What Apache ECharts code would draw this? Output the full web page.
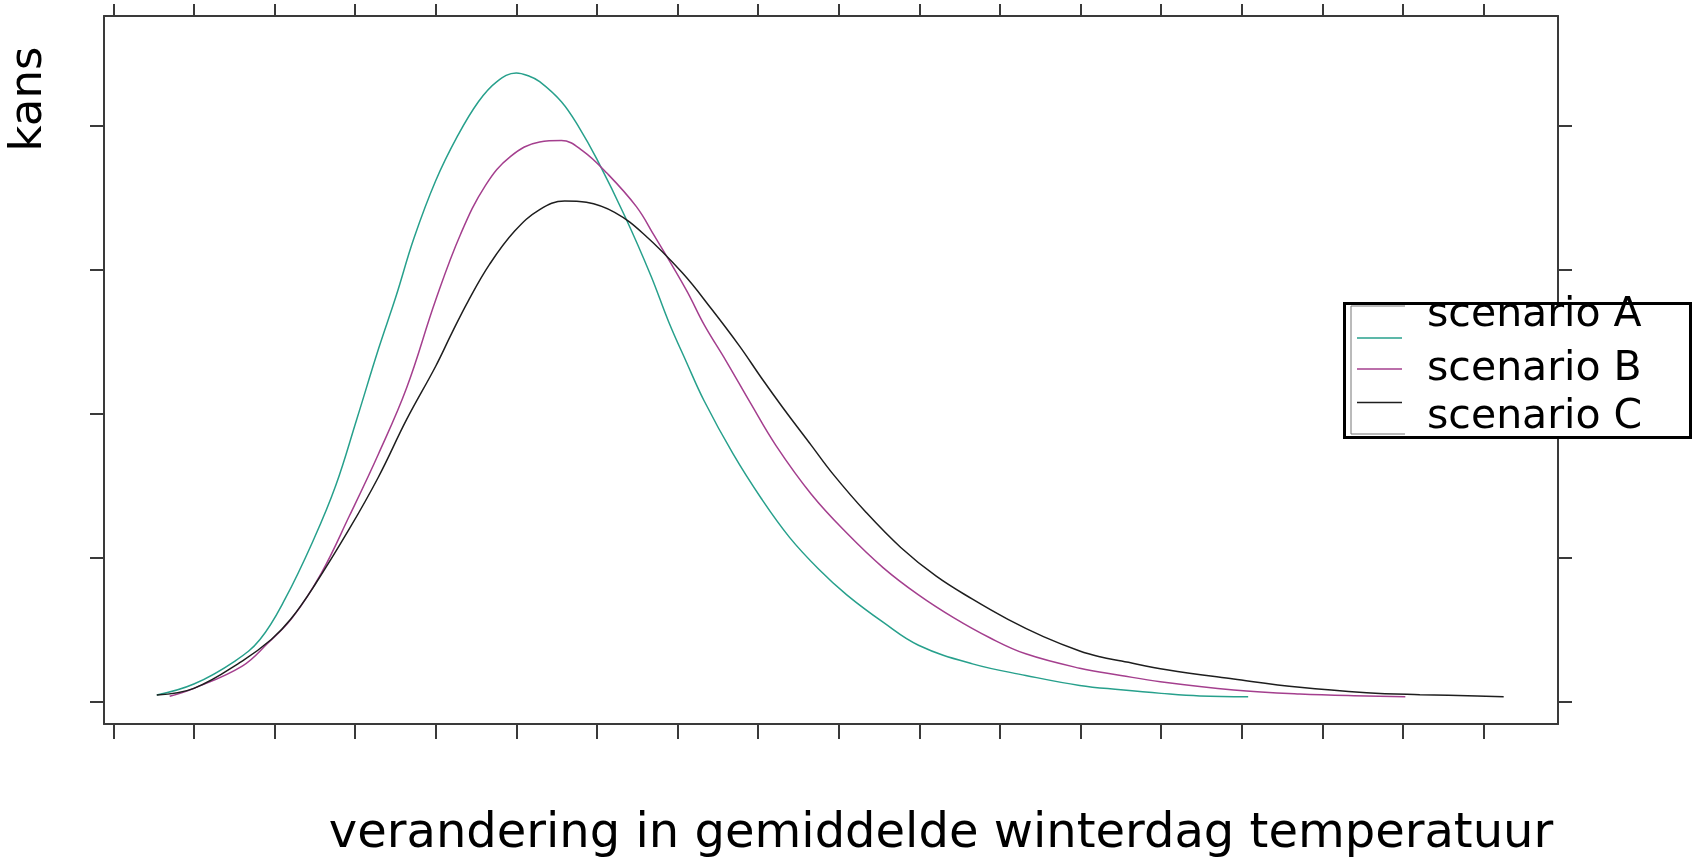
<!DOCTYPE html>
<html>
<head>
<meta charset="utf-8">
<title>kans</title>
<script src="https://cdn.jsdelivr.net/npm/echarts@6/dist/echarts.min.js"></script>
<style>
  html, body { margin: 0; padding: 0; background: #fff; }
  #chart { width: 1695px; height: 858px; }
</style>
</head>
<body>
<div id="chart"></div>
<script>
// tick positions (no labels in the original)
const xTicks = [0, 1, 2, 3, 4, 5, 6, 7, 8, 9, 10, 11, 12, 13, 14, 15, 16, 17]
const yTicks = [0, 1, 2, 3, 4]

const seriesNames = ['scenario A', 'scenario B', 'scenario C']

// scenario A (teal)
const xA = [0.54, 1.0, 1.51, 1.82, 2.13, 2.49, 2.76, 3.02, 3.29, 3.51, 3.73, 4.0, 4.27, 4.53, 4.76, 5.0, 5.15, 5.29, 5.56,
  5.78, 6.0, 6.35, 6.67, 6.89, 7.11, 7.33, 7.69, 8.04, 8.39, 8.75, 9.1, 9.55, 9.99, 10.66, 11.32, 11.99, 12.5, 13.0, 13.48, 14.08]
const yA = [0.044, 0.12, 0.28, 0.43, 0.71, 1.13, 1.50, 1.96, 2.45, 2.82, 3.22, 3.62, 3.93, 4.17, 4.31, 4.37, 4.35, 4.31, 4.17,
  3.99, 3.77, 3.37, 2.96, 2.64, 2.36, 2.09, 1.72, 1.41, 1.14, 0.92, 0.74, 0.55, 0.39, 0.26, 0.18, 0.11, 0.08, 0.055, 0.037, 0.032]

// scenario B (magenta)
const xB = [0.7, 1.0, 1.6, 1.91, 2.22, 2.58, 2.93, 3.29, 3.64, 4.0, 4.31, 4.62, 4.93, 5.29, 5.56, 5.82, 6.13, 6.49,
  6.71, 7.11, 7.33, 7.6, 7.91, 8.22, 8.66, 9.1, 9.55, 9.99, 10.43, 10.88, 11.32, 11.99, 12.5, 12.99, 13.9, 14.72, 15.55, 16.03]
const yB = [0.035, 0.09, 0.245, 0.40, 0.58, 0.89, 1.29, 1.72, 2.18, 2.79, 3.25, 3.59, 3.79, 3.89, 3.90, 3.83, 3.67, 3.44,
  3.24, 2.86, 2.62, 2.37, 2.07, 1.78, 1.44, 1.17, 0.93, 0.74, 0.58, 0.44, 0.33, 0.23, 0.18, 0.136, 0.079, 0.051, 0.037, 0.032]

// scenario C (black)
const xC = [0.54, 1.0, 1.6, 1.96, 2.2, 2.49, 2.93, 3.29, 3.64, 4.0, 4.2, 4.4, 4.67, 4.98, 5.29, 5.6, 5.87, 6.22, 6.58,
  7.06, 7.42, 7.77, 8.04, 8.31, 8.66, 8.93, 9.33, 9.77, 10.21, 10.66, 11.1, 11.54, 11.99, 12.24, 12.51, 13.07,
  13.9, 14.72, 15.55, 16.21, 16.92, 17.25]
const yC = [0.044, 0.09, 0.28, 0.43, 0.57, 0.80, 1.20, 1.56, 1.96, 2.33, 2.56, 2.78, 3.04, 3.27, 3.42, 3.48, 3.47, 3.40, 3.25,
  2.98, 2.73, 2.47, 2.25, 2.04, 1.78, 1.58, 1.32, 1.07, 0.87, 0.71, 0.57, 0.45, 0.35, 0.31, 0.28, 0.22,
  0.155, 0.097, 0.06, 0.046, 0.037, 0.032]

const colors = ['#27a08c', '#a43f8e', '#1e1e1e']

const pairs = (xs, ys) => xs.map((x, i) => [x, ys[i]])

const axisColor = '#3a3a3a'
const font = 'DejaVu Sans'

function xAxisOf(pos, tickLen, extra) {
  return Object.assign({
    type: 'value',
    position: pos,
    min: -0.115,
    max: 17.924,
    axisLine: { show: true, onZero: false, lineStyle: { color: axisColor, width: 2 } },
    axisTick: { show: true, inside: false, length: tickLen, customValues: xTicks, lineStyle: { color: axisColor, width: 2 } },
    axisLabel: { show: false },
    splitLine: { show: false }
  }, extra || {})
}

function yAxisOf(pos, extra) {
  return Object.assign({
    type: 'value',
    position: pos,
    min: -0.158,
    max: 4.766,
    axisLine: { show: true, onZero: false, lineStyle: { color: axisColor, width: 2 } },
    axisTick: { show: true, inside: false, length: 14, customValues: yTicks, lineStyle: { color: axisColor, width: 2 } },
    axisLabel: { show: false },
    splitLine: { show: false }
  }, extra || {})
}

const chart = echarts.init(document.getElementById('chart'), null, { renderer: 'canvas' })

const option = {
  animation: false,
  backgroundColor: '#fff',
  color: colors,
  // outerBoundsMode none: keep the plot box fixed, the axis title may sit near the edge
  grid: { left: 104, right: 137, top: 16, bottom: 134, containLabel: false, outerBoundsMode: 'none' },
  xAxis: [
    xAxisOf('bottom', 15, {
      name: 'verandering in gemiddelde winterdag temperatuur',
      nameLocation: 'middle',
      nameGap: 87,
      nameTextStyle: { fontFamily: font, fontSize: 48, lineHeight: 48, color: '#000', padding: [0, 0, 0, 220] }
    }),
    xAxisOf('top', 12)
  ],
  yAxis: [
    yAxisOf('left', {
      name: 'kans',
      nameLocation: 'middle',
      nameGap: 52,
      nameTextStyle: { fontFamily: font, fontSize: 45, lineHeight: 45, color: '#000', padding: [0, 0, 0, 542] }
    }),
    yAxisOf('right')
  ],
  // legend box is drawn by hand, legend itself only gives samples + text
  graphic: [
    {
      type: 'rect',
      z: 3,
      shape: { x: 1344.5, y: 303.5, width: 346, height: 134 },
      style: { fill: '#fff', stroke: '#000', lineWidth: 3 }
    },
    {
      type: 'polyline',
      z: 4,
      shape: { points: [[1405, 306], [1351, 306], [1351, 434], [1405, 434]] },
      style: { fill: null, stroke: '#777', lineWidth: 1 }
    }
  ],
  legend: {
    z: 6,
    orient: 'vertical',
    left: 1357,
    top: 295,
    padding: 0,
    icon: 'rect',
    itemWidth: 45,
    itemHeight: 1.5,
    itemGap: -32.6,
    selectedMode: false,
    // the original's text rows do not line up with their samples; blank lines shift them
    formatter: name => name === 'scenario A' ? name + '\n\n' : name === 'scenario C' ? '\n\n\n\n' + name + '\n' : name,
    textStyle: { fontFamily: font, fontSize: 41, lineHeight: 40, color: '#000', padding: [0, 0, 0, 20] },
    data: [
      { name: seriesNames[0], textStyle: { lineHeight: 22.6 } },
      { name: seriesNames[1], textStyle: { lineHeight: 40 } },
      { name: seriesNames[2], textStyle: { lineHeight: 10 } }
    ]
  },
  series: [
    { name: seriesNames[0], data: pairs(xA, yA) },
    { name: seriesNames[1], data: pairs(xB, yB) },
    { name: seriesNames[2], data: pairs(xC, yC) }
  ].map(s => Object.assign({
    type: 'line',
    symbol: 'none',
    smooth: 0.4,
    lineStyle: { width: 1.5 },
    z: 2
  }, s))
}

chart.setOption(option)
</script>
</body>
</html>
